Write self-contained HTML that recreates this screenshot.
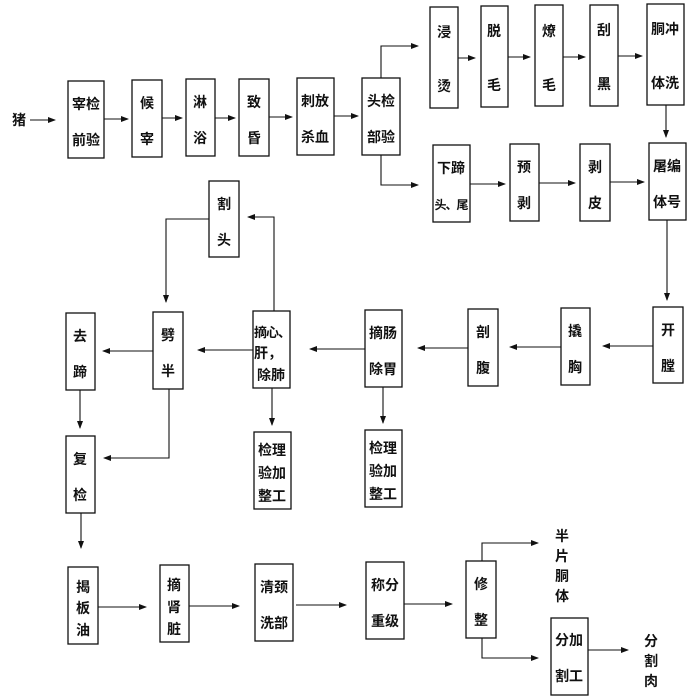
<!DOCTYPE html><html><head><meta charset="utf-8"><style>body{margin:0;background:#fff}svg{display:block}text{font-family:"Liberation Sans","Noto Sans CJK SC",sans-serif;font-size:14px;font-weight:bold;fill:#111;text-anchor:middle}</style></head><body>
<svg width="687" height="700" viewBox="0 0 687 700" xmlns="http://www.w3.org/2000/svg">
<defs><marker id="a" markerWidth="8" markerHeight="6" refX="7" refY="3" orient="auto" markerUnits="userSpaceOnUse"><path d="M0,0L8,3L0,6z" fill="#111"/></marker></defs>
<g fill="none" stroke="#111" stroke-width="1.3">
<rect x="68" y="81" width="36" height="77"/><rect x="132" y="80" width="30" height="77"/><rect x="186" y="79" width="29" height="77"/><rect x="239" y="79" width="30" height="77"/><rect x="297" y="78" width="37" height="77"/><rect x="362" y="78" width="38" height="77"/>
<rect x="430" y="7" width="28" height="101"/><rect x="481" y="6" width="27" height="101"/><rect x="535" y="5" width="28" height="101"/><rect x="590" y="5" width="28" height="101"/><rect x="647" y="4" width="37" height="101"/>
<rect x="433" y="145" width="37" height="77"/><rect x="510" y="144" width="29" height="77"/><rect x="580" y="144" width="30" height="77"/><rect x="649" y="143" width="37" height="77"/>
<rect x="209" y="181" width="30" height="76"/>
<rect x="653" y="307" width="30" height="76"/><rect x="561" y="308" width="29" height="77"/><rect x="468" y="309" width="30" height="77"/><rect x="365" y="310" width="37" height="77"/><rect x="253" y="311" width="37" height="77"/><rect x="153" y="312" width="30" height="77"/><rect x="66" y="313" width="29" height="77"/>
<rect x="254" y="432" width="37" height="77"/><rect x="365" y="430" width="37" height="77"/><rect x="66" y="436" width="29" height="77"/>
<rect x="68" y="567" width="30" height="77"/><rect x="160" y="565" width="29" height="77"/><rect x="255" y="564" width="38" height="77"/><rect x="366" y="562" width="38" height="77"/><rect x="466" y="561" width="30" height="77"/><rect x="551" y="618" width="37" height="77"/>
</g>
<g fill="none" stroke="#111" stroke-width="1.1" marker-end="url(#a)">
<path d="M30,120H55"/><path d="M104,119H128"/><path d="M162,118H182"/><path d="M215,118H235"/><path d="M269,117H292"/><path d="M334,116H358"/>
<path d="M381,78V46H418"/><path d="M381,155V185H418"/>
<path d="M458,58H475"/><path d="M508,57H530"/><path d="M563,57H585"/><path d="M618,56H642"/><path d="M666,105V137"/>
<path d="M470,184H505"/><path d="M539,183H575"/><path d="M610,182H644"/><path d="M667,220V300"/>
<path d="M653,346H603"/><path d="M561,347H510"/><path d="M468,348H418"/><path d="M365,349H310"/><path d="M253,350H198"/><path d="M153,351H103"/>
<path d="M274,311V217H248"/><path d="M209,219H166V302"/>
<path d="M272,388V425"/><path d="M383,387V423"/><path d="M80,390V428"/><path d="M169,389V458H104"/><path d="M81,513V548"/>
<path d="M98,607H146"/><path d="M189,606H239"/><path d="M296,605H346"/><path d="M404,604H452"/>
<path d="M482,561V543H538"/><path d="M482,638V658H538"/><path d="M588,650H628"/>
</g>
<text x="19" y="125">猪</text>
<g>
<text x="86" y="109">宰检</text><text x="86" y="145">前验</text>
<text x="147" y="108">候</text><text x="147" y="144">宰</text>
<text x="200" y="107">淋</text><text x="200" y="143">浴</text>
<text x="254" y="107">致</text><text x="254" y="143">昏</text>
<text x="315" y="106">刺放</text><text x="315" y="142">杀血</text>
<text x="381" y="106">头检</text><text x="381" y="142">部验</text>
<text x="444" y="37">浸</text><text x="444" y="91">烫</text>
<text x="494" y="36">脱</text><text x="494" y="90">毛</text>
<text x="549" y="36">燎</text><text x="549" y="90">毛</text>
<text x="604" y="35">刮</text><text x="604" y="89">黑</text>
<text x="665" y="34">胴冲</text><text x="665" y="88">体洗</text>
<text x="451" y="173">下蹄</text><text x="451" y="209" style="font-size:12px;letter-spacing:-1px">头、尾</text>
<text x="524" y="172">预</text><text x="524" y="208">剥</text>
<text x="595" y="172">剥</text><text x="595" y="208">皮</text>
<text x="667" y="171">屠编</text><text x="667" y="207">体号</text>
<text x="224" y="209">割</text><text x="224" y="245">头</text>
<text x="668" y="335">开</text><text x="668" y="371">膛</text>
<text x="575" y="336">撬</text><text x="575" y="372">胸</text>
<text x="483" y="337">剖</text><text x="483" y="373">腹</text>
<text x="383" y="338">摘肠</text><text x="383" y="374">除胃</text>
<text x="272" y="337" style="font-size:13px;letter-spacing:-1px">摘心、</text><text x="268" y="358">肝，</text><text x="271" y="380">除肺</text>
<text x="168" y="340">劈</text><text x="168" y="376">半</text>
<text x="80" y="341">去</text><text x="80" y="377">蹄</text>
<text x="272" y="455">检理</text><text x="272" y="478">验加</text><text x="272" y="501">整工</text>
<text x="383" y="453">检理</text><text x="383" y="476">验加</text><text x="383" y="499">整工</text>
<text x="80" y="464">复</text><text x="80" y="500">检</text>
<text x="83" y="592">揭</text><text x="83" y="613">板</text><text x="83" y="635">油</text>
<text x="174" y="590">摘</text><text x="174" y="612">肾</text><text x="174" y="634">脏</text>
<text x="274" y="592">清颈</text><text x="274" y="628">洗部</text>
<text x="385" y="590">称分</text><text x="385" y="626">重级</text>
<text x="481" y="589">修</text><text x="481" y="625">整</text>
<text x="562" y="541">半</text><text x="562" y="561">片</text><text x="562" y="581">胴</text><text x="562" y="601">体</text>
<text x="569" y="645">分加</text><text x="569" y="681">割工</text>
<text x="651" y="646">分</text><text x="651" y="666">割</text><text x="651" y="686">肉</text>
</g>
</svg></body></html>
